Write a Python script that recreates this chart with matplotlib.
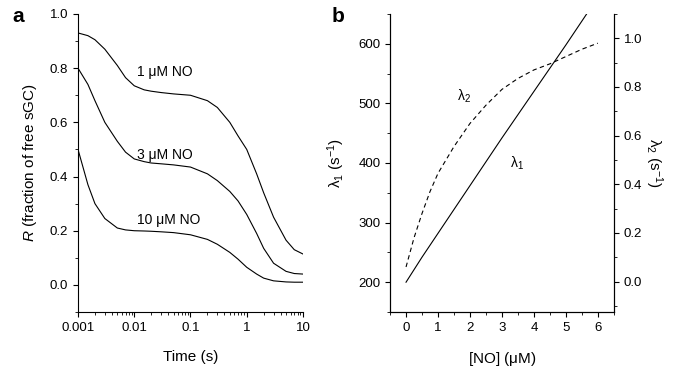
import numpy as np
import matplotlib
matplotlib.use('Agg')
import matplotlib.pyplot as plt
from matplotlib.ticker import MultipleLocator, LogLocator, NullFormatter

plt.rcParams['font.family'] = ['Liberation Sans', 'DejaVu Sans']
plt.rcParams['mathtext.fontset'] = 'custom'
plt.rcParams['mathtext.rm'] = 'Liberation Sans'
plt.rcParams['mathtext.it'] = 'Liberation Sans:italic'

# Panel a: fraction of free sGC vs time
time_s = [0.001, 0.0015, 0.002, 0.003, 0.005, 0.007, 0.01, 0.015, 0.02, 0.03,
          0.05, 0.1, 0.2, 0.3, 0.5, 0.7, 1, 1.5, 2, 3, 5, 7, 10]
r_1uM = [0.93, 0.92, 0.905, 0.87, 0.81, 0.765, 0.735, 0.72, 0.715, 0.71,
         0.705, 0.70, 0.68, 0.655, 0.60, 0.55, 0.50, 0.41, 0.34, 0.25,
         0.165, 0.13, 0.114]
r_3uM = [0.80, 0.74, 0.68, 0.60, 0.53, 0.49, 0.465, 0.455, 0.45, 0.447,
         0.443, 0.435, 0.41, 0.385, 0.345, 0.31, 0.26, 0.19, 0.135, 0.08,
         0.05, 0.042, 0.04]
r_10uM = [0.50, 0.37, 0.30, 0.245, 0.21, 0.203, 0.20, 0.199, 0.198, 0.196,
          0.193, 0.185, 0.168, 0.15, 0.12, 0.095, 0.065, 0.04, 0.025, 0.015,
          0.011, 0.01, 0.01]
curve_labels = ['1 μM NO', '3 μM NO', '10 μM NO']

# Panel b: rate constants vs [NO]
no_conc = [0, 0.5, 1, 1.5, 2, 2.5, 3, 3.5, 4, 4.5, 5, 5.5, 5.65]
lambda1 = [200, 242, 282, 322, 362, 402, 442, 481, 520, 559, 598, 638, 650]
no_conc2 = [0, 0.25, 0.5, 0.75, 1, 1.5, 2, 2.5, 3, 3.5, 4, 4.5, 5, 5.5, 6]
lambda2 = [0.06, 0.18, 0.28, 0.37, 0.445, 0.555, 0.65, 0.725, 0.79, 0.835,
           0.87, 0.895, 0.925, 0.955, 0.98]

fig = plt.figure(figsize=(6.76, 3.72), dpi=100)

# ---- panel a ----
ax_a = fig.add_axes([0.1154, 0.1613, 0.3328, 0.8011])
for r in (r_1uM, r_3uM, r_10uM):
    ax_a.plot(time_s, r, color='black', lw=0.8)
ax_a.set_xscale('log')
ax_a.set_xlim(0.001, 10)
ax_a.set_ylim(-0.1, 1.0)
ax_a.set_xticks([0.001, 0.01, 0.1, 1, 10])
ax_a.set_xticklabels(['0.001', '0.01', '0.1', '1', '10'])
ax_a.xaxis.set_minor_locator(LogLocator(base=10, subs=np.arange(2, 10)))
ax_a.xaxis.set_minor_formatter(NullFormatter())
ax_a.set_yticks([0.0, 0.2, 0.4, 0.6, 0.8, 1.0])
ax_a.yaxis.set_minor_locator(MultipleLocator(0.1))
ax_a.spines['top'].set_visible(False)
ax_a.spines['right'].set_visible(False)
ax_a.set_xlabel('Time (s)', fontsize=11, labelpad=12)
ax_a.set_ylabel(r'$\it{R}$ (fraction of free sGC)', fontsize=11, labelpad=8)

for txt, (tx, ty) in zip(curve_labels, [(0.0112, 0.785), (0.0112, 0.478), (0.0112, 0.239)]):
    ax_a.text(tx, ty, txt, fontsize=10, va='center')

fig.text(0.018, 0.955, 'a', fontsize=15, fontweight='bold', va='center')

# ---- panel b ----
ax_b = fig.add_axes([0.577, 0.1613, 0.331, 0.8011])
ax_b.plot(no_conc, lambda1, color='black', lw=0.8)
ax_b.set_xlim(-0.5, 6.5)
ax_b.set_ylim(150, 650)
ax_b.set_xticks(range(0, 7))
ax_b.xaxis.set_minor_locator(MultipleLocator(0.5))
ax_b.set_yticks([200, 300, 400, 500, 600])
ax_b.yaxis.set_minor_locator(MultipleLocator(50))
ax_b.spines['top'].set_visible(False)
ax_b.set_xlabel(r'[NO] ($\mathrm{\mu}$M)', fontsize=11, labelpad=12)
ax_b.set_ylabel(r'$\mathrm{\lambda}_1$ (s$^{-1}$)', fontsize=11, labelpad=8)

ax_b2 = ax_b.twinx()
ax_b2.plot(no_conc2, lambda2, color='black', lw=0.8, ls=(0, (4, 3)))
ax_b2.set_ylim(-0.125, 1.1)
ax_b2.set_yticks([0.0, 0.2, 0.4, 0.6, 0.8, 1.0])
ax_b2.yaxis.set_minor_locator(MultipleLocator(0.1))
ax_b2.spines['top'].set_visible(False)
ax_b2.set_ylabel(r'$\mathrm{\lambda}_2$ (s$^{-1}$)', fontsize=11, rotation=270, labelpad=16)

ax_b.text(1.6, 505, r'$\mathrm{\lambda}_2$', fontsize=10)
ax_b.text(3.25, 392, r'$\mathrm{\lambda}_1$', fontsize=10)

fig.text(0.49, 0.955, 'b', fontsize=15, fontweight='bold', va='center')

for ax in (ax_a, ax_b, ax_b2):
    ax.tick_params(which='major', direction='out', length=3.5, width=0.8, labelsize=9.5)
    ax.tick_params(which='minor', direction='out', length=2, width=0.6)
    for s in ax.spines.values():
        s.set_linewidth(0.8)

fig.savefig('out.png', dpi=100)
